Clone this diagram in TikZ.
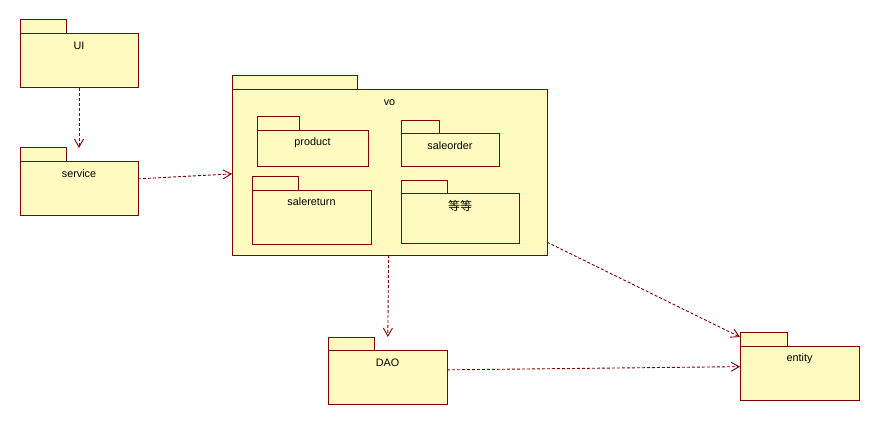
\documentclass[tikz,border=0pt]{standalone}
\usepackage{fontspec}
\setmainfont{Liberation Sans}
\newfontfamily\cjkfont{Noto Sans CJK SC}
\usetikzlibrary{arrows.meta}

\definecolor{pkgfill}{RGB}{255,251,192}
\definecolor{pkgedge}{RGB}{128,0,0}

\begin{document}
\begin{tikzpicture}[x=1pt,y=-1pt,
  pkg/.style={inner sep=0pt,outer sep=0pt},
  pkgline/.style={draw=pkgedge,fill=pkgfill,line width=1pt},
  pkgname/.style={font=\fontsize{10.8}{13}\selectfont,inner sep=0pt,anchor=base},
  depend/.style={draw=pkgedge,line width=0.9pt,dash pattern=on 3pt off 2pt,
    -{Straight Barb[length=8pt,width=9pt]}}]
\fill[white] (0,0) rectangle (879,425);
\useasboundingbox (0,0) rectangle (879,425);
% outer packages
\node[pkg,minimum width=118pt,minimum height=68pt] (ui) at (79,54) {};
\draw[pkgline] (ui.north west) rectangle +(46,14);
\draw[pkgline] ([yshift=-14pt]ui.north west) rectangle (ui.south east);
\node[pkgname] (uiname) at (79,49.5) {UI};
\node[pkg,minimum width=118pt,minimum height=68pt] (service) at (79,182) {};
\draw[pkgline] (service.north west) rectangle +(46,14);
\draw[pkgline] ([yshift=-14pt]service.north west) rectangle (service.south east);
\node[pkgname] (servicename) at (79,177.5) {service};
\node[pkg,minimum width=315pt,minimum height=179pt] (vo) at (389.5,165.5) {};
\draw[pkgline] (vo.north west) rectangle +(125,14);
\draw[pkgline] ([yshift=-14pt]vo.north west) rectangle (vo.south east);
\node[pkgname] (voname) at (389.5,106) {vo};
\node[pkg,minimum width=119pt,minimum height=67pt] (dao) at (387.5,370.5) {};
\draw[pkgline] (dao.north west) rectangle +(46,13);
\draw[pkgline] ([yshift=-13pt]dao.north west) rectangle (dao.south east);
\node[pkgname] (daoname) at (387.5,366) {DAO};
\node[pkg,minimum width=119pt,minimum height=68pt] (entity) at (799.5,366) {};
\draw[pkgline] (entity.north west) rectangle +(47,14);
\draw[pkgline] ([yshift=-14pt]entity.north west) rectangle (entity.south east);
\node[pkgname] (entityname) at (799.5,361) {entity};
% packages inside vo
\node[pkg,minimum width=111pt,minimum height=50pt] (product) at (312.5,142) {};
\draw[pkgline] (product.north west) rectangle +(42,14);
\draw[pkgline] ([yshift=-14pt]product.north west) rectangle (product.south east);
\node[pkgname] (productname) at (312.5,146) {product};
\node[pkg,minimum width=98pt,minimum height=46pt] (saleorder) at (450,144) {};
\draw[pkgline] (saleorder.north west) rectangle +(38,13);
\draw[pkgline] ([yshift=-13pt]saleorder.north west) rectangle (saleorder.south east);
\node[pkgname] (saleordername) at (450,150) {saleorder};
\node[pkg,minimum width=119pt,minimum height=67pt] (salereturn) at (311.5,210.5) {};
\draw[pkgline] (salereturn.north west) rectangle +(46,14);
\draw[pkgline] ([yshift=-14pt]salereturn.north west) rectangle (salereturn.south east);
\node[pkgname] (salereturnname) at (311.5,206) {salereturn};
\node[pkg,minimum width=118pt,minimum height=62pt] (others) at (460,212) {};
\draw[pkgline] (others.north west) rectangle +(46,13);
\draw[pkgline] ([yshift=-13pt]others.north west) rectangle (others.south east);
\node[pkgname,font=\cjkfont\fontsize{12}{14}\selectfont] (othersname) at (460,210.5) {等等};
% dependencies
\draw[depend] (ui) -- (service);
\draw[depend] (service) -- (vo);
\draw[depend] (vo) -- (dao);
\draw[depend] (vo) -- (entity);
\draw[depend] (dao) -- (entity);
\end{tikzpicture}
\end{document}
